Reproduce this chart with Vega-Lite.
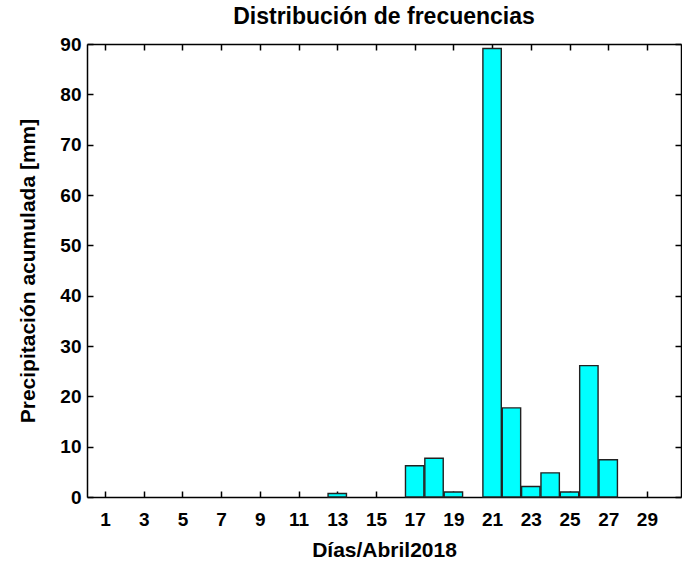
{
  "$schema": "https://vega.github.io/schema/vega-lite/v6.json",
  "width": 594,
  "height": 453,
  "autosize": "none",
  "padding": {"left": 87, "top": 44, "right": 1, "bottom": 66},
  "background": "white",
  "title": {
    "text": "Distribución de frecuencias",
    "font": "Liberation Sans",
    "fontSize": 23,
    "fontWeight": "bold",
    "color": "black",
    "anchor": "middle",
    "offset": 6
  },
  "config": {
    "view": {"stroke": null},
    "axis": {
      "grid": false,
      "domainColor": "black",
      "domainWidth": 1.5,
      "tickColor": "black",
      "tickWidth": 1.5,
      "tickSize": -6,
      "labelFont": "Liberation Sans",
      "labelFontSize": 19,
      "labelFontWeight": "bold",
      "labelColor": "black",
      "titleFont": "Liberation Sans",
      "titleFontSize": 21,
      "titleFontWeight": "bold",
      "titleColor": "black"
    }
  },
  "data": {
    "values": [
      {"dia": 13, "mm": 0.7},
      {"dia": 17, "mm": 6.2},
      {"dia": 18, "mm": 7.7},
      {"dia": 19, "mm": 1.0},
      {"dia": 21, "mm": 89.1},
      {"dia": 22, "mm": 17.7},
      {"dia": 23, "mm": 2.1},
      {"dia": 24, "mm": 4.8},
      {"dia": 25, "mm": 1.0},
      {"dia": 26, "mm": 26.1},
      {"dia": 27, "mm": 7.4}
    ]
  },
  "layer": [
    {
      "mark": {"type": "bar", "width": 18.4, "fill": "#00FFFF", "stroke": "#222222", "strokeWidth": 1.4},
      "encoding": {
        "x": {
          "field": "dia",
          "type": "quantitative",
          "scale": {"domain": [0.07, 30.76], "nice": false, "zero": false, "padding": 0},
          "axis": {
            "values": [1, 3, 5, 7, 9, 11, 13, 15, 17, 19, 21, 23, 25, 27, 29],
            "labelPadding": 19,
            "title": "Días/Abril2018",
            "titlePadding": 10
          }
        },
        "y": {
          "field": "mm",
          "type": "quantitative",
          "scale": {"domain": [0, 90], "nice": false, "padding": 0},
          "axis": {
            "values": [0, 10, 20, 30, 40, 50, 60, 70, 80, 90],
            "labelPadding": 12,
            "title": "Precipitación acumulada [mm]",
            "titlePadding": 21
          }
        }
      }
    },
    {
      "mark": {"type": "bar", "width": 1, "opacity": 0},
      "encoding": {
        "x": {
          "field": "dia",
          "type": "quantitative",
          "axis": {
            "orient": "top",
            "values": [1, 3, 5, 7, 9, 11, 13, 15, 17, 19, 21, 23, 25, 27, 29],
            "labels": false,
            "title": null
          }
        },
        "y": {
          "field": "mm",
          "type": "quantitative",
          "axis": {
            "orient": "right",
            "values": [0, 10, 20, 30, 40, 50, 60, 70, 80, 90],
            "labels": false,
            "title": null
          }
        }
      }
    }
  ],
  "resolve": {"axis": {"x": "independent", "y": "independent"}}
}
